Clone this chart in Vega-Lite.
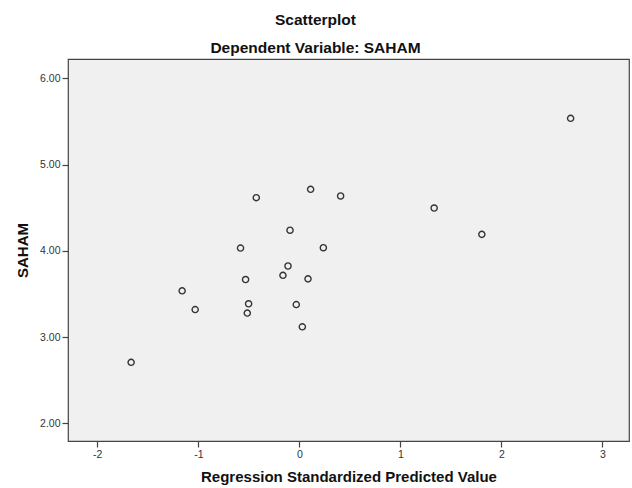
{
  "$schema": "https://vega.github.io/schema/vega-lite/v6.json",
  "width": 561,
  "height": 382,
  "autosize": "none",
  "padding": {"left": 68, "top": 59, "right": 3, "bottom": 47},
  "background": "white",
  "title": {
    "text": ["Scatterplot", "Dependent Variable: SAHAM"],
    "font": "Liberation Sans",
    "fontSize": 15.5,
    "fontWeight": "bold",
    "color": "#111",
    "lineHeight": 28,
    "anchor": "middle",
    "dx": -33,
    "offset": 3
  },
  "config": {
    "view": {"fill": "#f0f0f0", "stroke": "#444", "strokeWidth": 1.2},
    "axis": {
      "grid": false,
      "domain": false,
      "tickColor": "#444",
      "tickSize": 6,
      "tickWidth": 1.2,
      "labelFont": "Liberation Sans",
      "labelFontSize": 10.5,
      "labelColor": "#333",
      "labelPadding": 2,
      "titleFont": "Liberation Sans",
      "titleFontSize": 15,
      "titleFontWeight": "bold",
      "titleColor": "#111"
    }
  },
  "data": {
    "values": [
      {"x": -0.426, "y": 4.616},
      {"x": 0.112, "y": 4.713},
      {"x": 0.409, "y": 4.636},
      {"x": 1.335, "y": 4.496},
      {"x": -0.092, "y": 4.239},
      {"x": -0.582, "y": 4.032},
      {"x": 0.238, "y": 4.036},
      {"x": -0.112, "y": 3.824},
      {"x": -0.162, "y": 3.716},
      {"x": -0.532, "y": 3.667},
      {"x": 0.086, "y": 3.675},
      {"x": -1.160, "y": 3.536},
      {"x": -1.031, "y": 3.319},
      {"x": -0.502, "y": 3.386},
      {"x": -0.515, "y": 3.278},
      {"x": -0.030, "y": 3.377},
      {"x": 0.030, "y": 3.119},
      {"x": -1.665, "y": 2.707},
      {"x": 2.686, "y": 5.536},
      {"x": 1.807, "y": 4.191}
    ]
  },
  "mark": {"type": "point", "filled": false, "stroke": "#333", "strokeWidth": 1.4, "size": 38, "opacity": 1},
  "encoding": {
    "x": {
      "field": "x",
      "type": "quantitative",
      "title": "Regression Standardized Predicted Value",
      "scale": {"domain": [-2.29, 3.264], "nice": false, "zero": false},
      "axis": {
        "values": [-2, -1, 0, 1, 2, 3],
        "labelExpr": "datum.value < 0 ? '-' + abs(datum.value) : '' + datum.value",
        "titlePadding": 10
      }
    },
    "y": {
      "field": "y",
      "type": "quantitative",
      "title": "SAHAM",
      "scale": {"domain": [1.795, 6.224], "nice": false, "zero": false},
      "axis": {"values": [2, 3, 4, 5, 6], "format": ".2f", "titlePadding": 9}
    }
  }
}
